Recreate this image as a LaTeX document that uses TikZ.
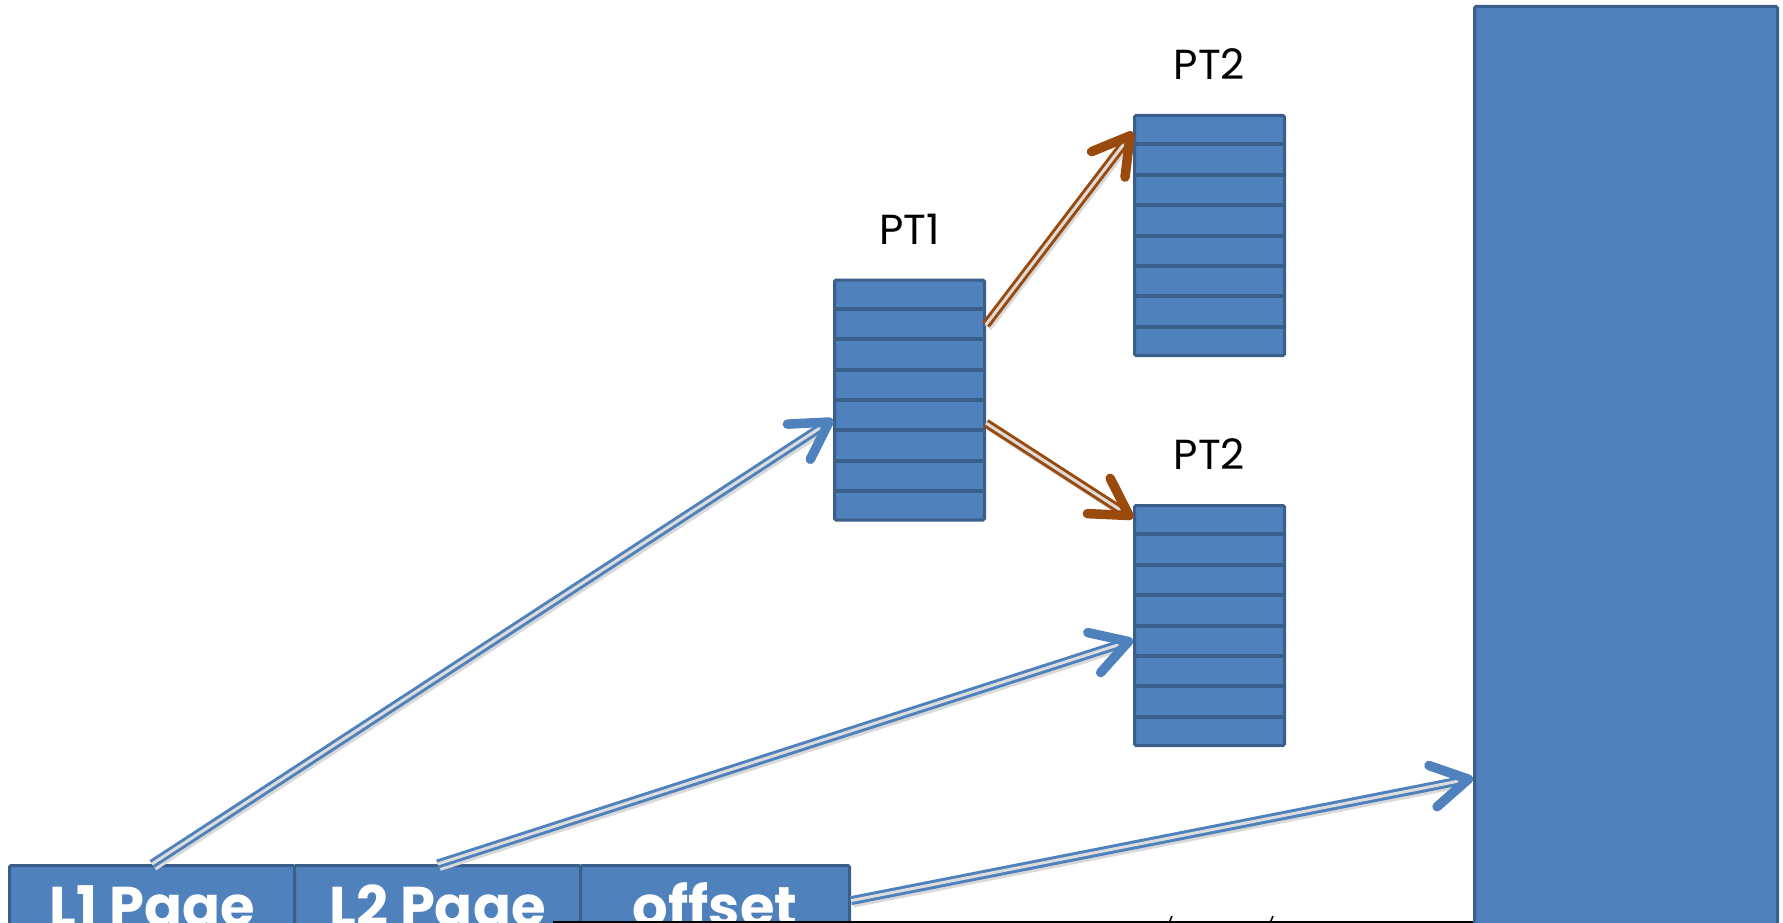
\documentclass[tikz,border=0pt]{standalone}
\usepackage{fontspec}
\setmainfont{Poppins}
\usetikzlibrary{arrows.meta,positioning,calc}
\definecolor{boxblue}{HTML}{4F81BD}
\definecolor{boxedge}{HTML}{3A5F8B}
\definecolor{linkblue}{HTML}{4F81BD}
\definecolor{linkbrown}{HTML}{9A4A0C}
\definecolor{linkgap}{HTML}{DCDCDC}

\begin{document}
\begin{tikzpicture}[x=1pt, y=-1pt, every node/.style={font=\fontsize{42}{50}\selectfont},
  box/.style={draw=boxedge, fill=boxblue, line width=3pt, rounded corners=1.5pt, inner sep=0pt},
  ptable/.style={box, minimum width=150pt, minimum height=240pt},
  field/.style={box, minimum height=96pt, text=white, text height=38pt, text depth=12pt,
    font=\fontsize{56}{60}\selectfont\bfseries},
  row/.style={draw=boxedge, line width=4pt},
  link/.style={line width=3pt, double=linkgap, double distance=3pt, shorten >=10pt},
  linkshade/.style={black!15, line width=8pt, shorten >=10pt, transform canvas={shift={(2pt,-3pt)}}},
  tip/.style={line width=0.1pt, -{Straight Barb[length=36pt, width=42pt, line width=9.5pt, round]}},
  ptlabel/.style={inner sep=0pt}]
\useasboundingbox (0,0) rectangle (1783,923);
\clip (0,0) rectangle (1783,923);

% address fields
\node[field, anchor=north west, minimum width=285pt] (l1) at (8,864) {L1 Page};
\node[field, minimum width=286pt, right=-3pt of l1] (l2) {L2 Page};
\node[field, minimum width=269pt, right=-3pt of l2] (offs) {offset};

% page tables and memory
\node[ptable] (pt1) at (909.5,400) {};
\node[ptable] (pt2a) at (1209.5,235.5) {};
\node[ptable] (pt2b) at (1209.5,625.5) {};
\node[box, anchor=north west, minimum width=303pt, minimum height=940pt] (mem) at (1473,5) {};
\foreach \t in {pt1,pt2a,pt2b}
  \foreach \i in {1,...,7}
    \draw[row] ($(\t.north west)!\i/8!(\t.south west)$) -- ($(\t.north east)!\i/8!(\t.south east)$);

\node[ptlabel, above=34pt of pt1] (pt1lbl) {PT1};
\node[ptlabel, above=34pt of pt2a] (pt2albl) {PT2};
\node[ptlabel, above=34pt of pt2b] (pt2blbl) {PT2};

% link ends
\coordinate (pt1in) at ($(pt1.north west)!0.58!(pt1.south west)$);
\coordinate (pt1outa) at ($(pt1.north east)!0.19!(pt1.south east)$);
\coordinate (pt1outb) at ($(pt1.north east)!0.595!(pt1.south east)$);
\coordinate (pt2ain) at ($(pt2a.north west)!0.074!(pt2a.south west)$);
\coordinate (pt2bin) at ($(pt2b.north west)!0.058!(pt2b.south west)$);
\coordinate (pt2bleft) at ($(pt2b.north west)!0.56!(pt2b.south west)$);
\coordinate (offout) at ($(offs.north east)!0.37!(offs.south east)$);
\coordinate (memin) at ($(mem.north west)!0.82!(mem.south west)$);

\foreach \a/\b/\c in {l1.north/pt1in/linkblue, l2.north/pt2bleft/linkblue, offout/memin/linkblue,
    pt1outa/pt2ain/linkbrown, pt1outb/pt2bin/linkbrown} {
  \draw[linkshade] (\a) -- (\b);
  \draw[link, draw=\c] (\a) -- (\b);
  \draw[tip, \c] ($(\b)!1pt!(\a)$) -- (\b);
}

% cut-off edge at the bottom
\coordinate (rule) at (553,922);
\draw[line width=2pt] (rule) -- (rule -| mem.west);
\draw[line width=1.5pt] (1169,923) -- (1172,916);
\draw[line width=1.5pt] (1270,923) -- (1273,916);
\end{tikzpicture}
\end{document}
